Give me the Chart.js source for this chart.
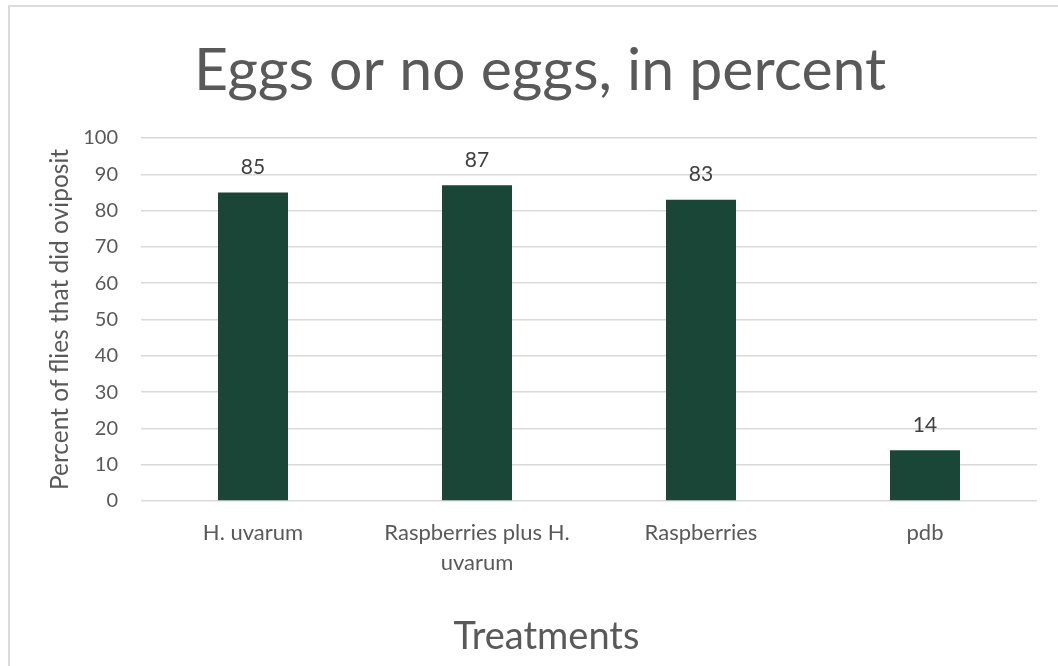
<!DOCTYPE html>
<html>
<head>
<meta charset="utf-8">
<script src="https://cdn.jsdelivr.net/npm/chart.js@4/dist/chart.umd.min.js"></script>
<style>
  html, body { margin: 0; padding: 0; background: #ffffff; }
  #wrap { position: relative; width: 1058px; height: 666px; overflow: hidden; }
  #frame { position: absolute; left: 8px; top: 5px; width: 1200px; height: 800px;
           border-left: 2px solid #dcdcdc; border-top: 2px solid #dcdcdc; }
  #c { position: absolute; left: 0; top: 0; }
</style>
</head>
<body>
<div id="wrap">
  <div id="frame"></div>
  <canvas id="c" width="1058" height="666"></canvas>
</div>
<script>
// Treatments and the share of flies that laid eggs under each
const categories = ["H. uvarum", ["Raspberries plus H.", "uvarum"], "Raspberries", "pdb"];
const ovipositPercent = [85, 87, 83, 14];
const yAxisRange = { min: 0, max: 100, step: 10 };

const chartTitle = "Eggs or no eggs, in percent";
const xAxisTitle = "Treatments";
const yAxisTitle = "Percent of flies that did oviposit";

const FONT = "Lato, 'Open Sans', sans-serif";
const TEXT_GREY = "#595959";

// Writes each bar's value just above it
const barValueLabels = {
  id: "barValueLabels",
  afterDatasetsDraw(chart) {
    const ctx = chart.ctx;
    const meta = chart.getDatasetMeta(0);
    const values = chart.data.datasets[0].data;
    ctx.save();
    ctx.font = "21px " + FONT;
    ctx.fillStyle = "#404040";
    ctx.textAlign = "center";
    ctx.textBaseline = "middle";
    meta.data.forEach((bar, i) => {
      ctx.fillText(String(values[i]), bar.x, bar.y - 25);
    });
    ctx.restore();
  }
};

// Chart heading and the category-axis caption, placed freely in the frame
const freeTitles = {
  id: "freeTitles",
  afterDraw(chart) {
    const ctx = chart.ctx;
    ctx.save();
    ctx.fillStyle = TEXT_GREY;
    ctx.textAlign = "center";
    ctx.textBaseline = "alphabetic";
    ctx.font = "59px " + FONT;
    ctx.fillText(chartTitle, chart.width * 0.5105, 90);
    ctx.font = "38px " + FONT;
    ctx.fillText(xAxisTitle, chart.width * 0.5165, 649);
    ctx.restore();
  }
};

new Chart(document.getElementById("c"), {
  type: "bar",
  data: {
    labels: categories,
    datasets: [{
      data: ovipositPercent,
      backgroundColor: "#1a4637",
      borderWidth: 0,
      barPercentage: 0.3125,
      categoryPercentage: 1.0
    }]
  },
  options: {
    responsive: false,
    animation: false,
    devicePixelRatio: 1,
    layout: { padding: { left: 9, right: 21, top: 138, bottom: 0 } },
    plugins: {
      legend: { display: false },
      tooltip: { enabled: false },
      title: { display: false }
    },
    scales: {
      x: {
        grid: { display: false, drawTicks: false },
        border: { display: false },
        ticks: {
          color: TEXT_GREY,
          padding: 17,
          maxRotation: 0,
          autoSkip: false,
          font: { family: FONT, size: 22, lineHeight: 1.364 }
        },
        afterFit(scale) {
          scale.height = 165;
          scale.paddingLeft = 0;
          scale.paddingRight = 0;
        }
      },
      y: {
        min: yAxisRange.min,
        max: yAxisRange.max,
        grid: { color: "#d9d9d9", lineWidth: 1.5, drawTicks: false },
        border: { display: false },
        ticks: {
          stepSize: yAxisRange.step,
          color: TEXT_GREY,
          padding: 23,
          font: { family: FONT, size: 20 }
        },
        title: {
          display: true,
          text: yAxisTitle,
          color: TEXT_GREY,
          font: { family: FONT, size: 24.5, lineHeight: 1.2 },
          padding: { top: 36.3, bottom: 0 }
        },
        afterFit(scale) {
          scale.width = 132;
          scale.paddingTop = 0;
          scale.paddingBottom = 0;
        }
      }
    }
  },
  plugins: [barValueLabels, freeTitles]
});
</script>
</body>
</html>
